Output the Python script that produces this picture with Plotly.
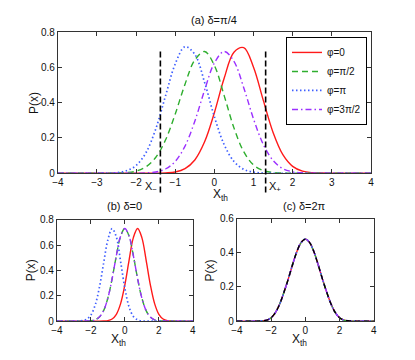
import plotly.graph_objects as go

W, H = 415, 360

# sample points along X_th
X = [-4.0, -3.75, -3.5, -3.25, -3.0, -2.75, -2.5, -2.25, -2.0, -1.75, -1.5,
     -1.25, -1.0, -0.75, -0.5, -0.25, 0.0, 0.25, 0.5, 0.75, 1.0, 1.25, 1.5,
     1.75, 2.0, 2.25, 2.5, 2.75, 3.0, 3.25, 3.5, 3.75, 4.0]

# (a) delta = pi/4
A_PHI0 = [0, 0, 0, 0, 0, 0, 0, 0, 0, 0, 0,
          0.002, 0.007, 0.026, 0.075, 0.178, 0.343, 0.538, 0.686, 0.712, 0.601,
          0.413, 0.231, 0.105, 0.039, 0.012, 0.003, 0.001,
          0, 0, 0, 0, 0]
A_PHI_PI2 = [0, 0, 0, 0, 0, 0,
             0.001, 0.003, 0.012, 0.036, 0.089, 0.188, 0.336, 0.505, 0.642, 0.69,
             0.611, 0.44, 0.257, 0.122, 0.047, 0.015, 0.004, 0.001,
             0, 0, 0, 0, 0, 0, 0, 0, 0]
A_PHI_PI = [0, 0, 0, 0, 0,
            0.001, 0.003, 0.014, 0.044, 0.116, 0.25, 0.437, 0.62, 0.717, 0.674,
            0.515, 0.32, 0.162, 0.067, 0.022, 0.006, 0.001,
            0, 0, 0, 0, 0, 0, 0, 0, 0, 0, 0]
A_PHI_3PI2 = [0, 0, 0, 0, 0, 0, 0, 0, 0,
              0.002, 0.007, 0.024, 0.067, 0.154, 0.295, 0.471, 0.625, 0.69, 0.634,
              0.485, 0.308, 0.163, 0.072, 0.026, 0.008, 0.002,
              0, 0, 0, 0, 0, 0, 0]

# (b) delta = 0
B_PHI0 = [0, 0, 0, 0, 0, 0, 0, 0, 0, 0, 0,
          0.001, 0.004, 0.017, 0.054, 0.138, 0.286, 0.481, 0.658, 0.73, 0.658,
          0.481, 0.286, 0.138, 0.054, 0.017, 0.004, 0.001,
          0, 0, 0, 0, 0]
B_PHI_PI2 = [0, 0, 0, 0, 0, 0, 0,
             0.001, 0.003, 0.010, 0.032, 0.083, 0.182, 0.334, 0.516, 0.669, 0.73,
             0.669, 0.516, 0.334, 0.182, 0.083, 0.032, 0.010, 0.003, 0.001,
             0, 0, 0, 0, 0, 0, 0]
B_PHI_PI = [0, 0, 0, 0, 0,
            0.001, 0.004, 0.015, 0.048, 0.125, 0.265, 0.457, 0.64, 0.729, 0.663,
            0.469, 0.259, 0.111, 0.037, 0.01, 0.002,
            0, 0, 0, 0, 0, 0, 0, 0, 0, 0, 0, 0]
B_PHI_3PI2 = [0, 0, 0, 0, 0, 0, 0,
              0.001, 0.003, 0.010, 0.032, 0.083, 0.182, 0.334, 0.516, 0.669, 0.73,
              0.669, 0.516, 0.334, 0.182, 0.083, 0.032, 0.010, 0.003, 0.001,
              0, 0, 0, 0, 0, 0, 0]

# (c) delta = 2pi : all phases coincide
C_ALL = [0, 0, 0, 0, 0, 0,
         0.002, 0.006, 0.02, 0.05, 0.10, 0.169, 0.246, 0.33, 0.406, 0.46, 0.48,
         0.46, 0.406, 0.33, 0.246, 0.169, 0.10, 0.05, 0.02, 0.006, 0.002,
         0, 0, 0, 0, 0, 0]

PHASE_NAMES = ["\u03c6=0", "\u03c6=\u03c0/2", "\u03c6=\u03c0", "\u03c6=3\u03c0/2"]
X_MINUS, X_PLUS = -1.38, 1.31
MARK_TOP = 0.69

FONT = "Liberation Sans, Arial, sans-serif"
STYLES = [
    dict(color="#ff1a1a", width=1.4),
    dict(color="#2fae2f", width=1.4, dash="6px,4px"),
    dict(color="#3f5fff", width=1.7, dash="1.5px,2.5px"),
    dict(color="#9b30ff", width=1.4, dash="6px,3px,1.5px,3px"),
]


def px_dom(a, b, total, flip=False):
    if flip:
        return [1 - b / total, 1 - a / total]
    return [a / total, b / total]


A_XD, A_YD = px_dom(53, 373, W), px_dom(27, 173, H, True)
B_XD, B_YD = px_dom(52, 191, W), px_dom(221, 326, H, True)
C_XD, C_YD = px_dom(236, 376, W), px_dom(220, 326, H, True)

fig = go.Figure()

panels = [
    ("x", "y", [A_PHI0, A_PHI_PI2, A_PHI_PI, A_PHI_3PI2], True),
    ("x2", "y2", [B_PHI0, B_PHI_PI2, B_PHI_PI, B_PHI_3PI2], False),
    ("x3", "y3", [C_ALL, C_ALL, C_ALL, C_ALL], False),
]
for xa, ya, series, legend in panels:
    for name, ys, st in zip(PHASE_NAMES, series, STYLES):
        fig.add_trace(go.Scatter(
            x=X, y=ys, xaxis=xa, yaxis=ya, mode="lines", name=name,
            line=dict(shape="spline", smoothing=1.0, **st),
            showlegend=legend, hoverinfo="skip",
        ))

# black dashed overlay in (c)
fig.add_trace(go.Scatter(
    x=X, y=C_ALL, xaxis="x3", yaxis="y3", mode="lines",
    line=dict(color="black", width=1.4, dash="5px,4px", shape="spline", smoothing=1.0),
    showlegend=False, hoverinfo="skip",
))


def axis(domain, anchor, rng, dtick):
    return dict(
        domain=domain, anchor=anchor, range=rng, dtick=dtick, tick0=0,
        ticks="inside", ticklen=4, tickwidth=1, tickcolor="#333",
        showline=True, linecolor="#333", linewidth=1, mirror="ticks",
        showgrid=False, zeroline=False,
        tickfont=dict(family=FONT, size=10, color="#111"),
    )


a_lo, a_hi = A_YD
shapes = []
for xv in (X_MINUS, X_PLUS):
    shapes.append(dict(
        type="line", xref="x", yref="paper", x0=xv, x1=xv,
        y0=1 - 193 / H, y1=a_lo + MARK_TOP / 0.8 * (a_hi - a_lo),
        line=dict(color="black", width=1.6, dash="6px,3px"),
    ))

tfont = dict(family=FONT, size=11, color="#111")
xfont = dict(family=FONT, size=12, color="#111")


def note(text, px, py, font, **kw):
    d = dict(text=text, x=px / W, y=1 - py / H, xref="paper", yref="paper",
             xanchor="center", yanchor="middle", showarrow=False, font=font)
    d.update(kw)
    return d


annotations = [
    note("(a) \u03b4=\u03c0/4", 213, 15, tfont),
    note("(b) \u03b4=0", 121, 207, tfont),
    note("(c) \u03b4=2\u03c0", 305, 207, tfont),
    note("X<sub>th</sub>", 219, 195, xfont),
    note("X<sub>th</sub>", 115, 345, xfont),
    note("X<sub>th</sub>", 300, 345, xfont),
    note("P(x)", 28, 100, xfont, textangle=-90),
    note("P(x)", 25, 273, xfont, textangle=-90),
    note("P(x)", 208, 273, xfont, textangle=-90),
    dict(text="X<sub>\u2212</sub>", x=X_MINUS, xref="x", xanchor="right", xshift=-1,
         y=1 - 187 / H, yref="paper", yanchor="middle", showarrow=False, font=tfont),
    dict(text="X<sub>+</sub>", x=X_PLUS, xref="x", xanchor="left", xshift=1,
         y=1 - 187 / H, yref="paper", yanchor="middle", showarrow=False, font=tfont),
]

fig.update_layout(
    width=W, height=H,
    margin=dict(l=0, r=0, t=0, b=0),
    paper_bgcolor="white", plot_bgcolor="white",
    font=dict(family=FONT, size=10, color="#111"),
    xaxis=axis(A_XD, "y", [-4, 4], 1),
    yaxis=axis(A_YD, "x", [0, 0.8], 0.2),
    xaxis2=axis(B_XD, "y2", [-4, 4], 2),
    yaxis2=axis(B_YD, "x2", [0, 0.8], 0.2),
    xaxis3=axis(C_XD, "y3", [-4, 4], 2),
    yaxis3=axis(C_YD, "x3", [0, 0.6], 0.2),
    shapes=shapes,
    annotations=annotations,
    legend=dict(
        x=369 / W, xanchor="right", y=1 - 32 / H, yanchor="top",
        bordercolor="black", borderwidth=1, bgcolor="white",
        font=dict(family=FONT, size=10, color="#111"),
        tracegroupgap=0, itemwidth=30,
    ),
    showlegend=True,
)

# drop the default page margin so the figure sits at the window origin
fig.write_html(
    "out.html",
    config={"displayModeBar": False},
    post_script="document.body.style.margin='0px';document.body.style.overflow='hidden';",
)
